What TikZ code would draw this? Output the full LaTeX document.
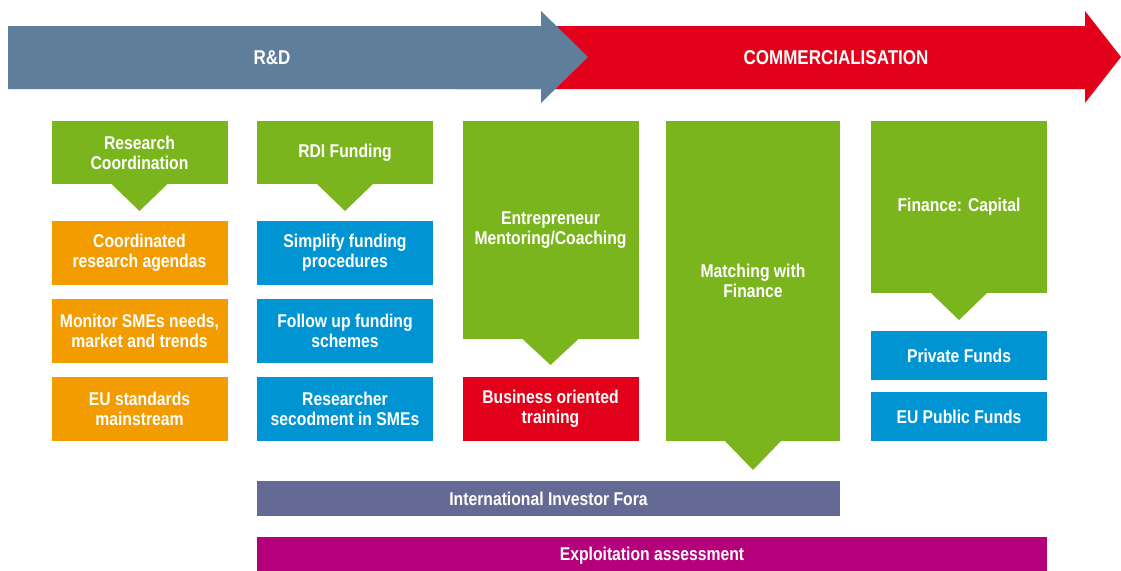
\documentclass[tikz,border=0pt]{standalone}
\usepackage{fontspec}
\setmainfont[FakeStretch=0.85]{Liberation Sans}
\usepackage{tikz}
\usetikzlibrary{positioning}
\definecolor{rdblue}{HTML}{5F7E9B}
\definecolor{comred}{HTML}{E2001A}
\definecolor{stepgreen}{HTML}{7AB51D}
\definecolor{actorange}{HTML}{F39C00}
\definecolor{actblue}{HTML}{0095D2}
\definecolor{foraviolet}{HTML}{646A94}
\definecolor{expmagenta}{HTML}{B5007B}

\begin{document}
\begin{tikzpicture}[
x=1pt,y=-1pt,
Box/.style={inner sep=0pt,outer sep=0pt,text=white,align=center,
  font=\bfseries\fontsize{18.5}{20}\selectfont,minimum width=176pt},
Head/.style={Box,fill=stepgreen},
Orange/.style={Box,fill=actorange,minimum height=64pt},
Blue/.style={Box,fill=actblue,minimum height=64pt},
Pointer/.style={fill=stepgreen},
Title/.style={Box,minimum width=0pt,font=\bfseries\fontsize{20}{22}\selectfont}
]
\useasboundingbox (0,0) rectangle (1121,570);

% process arrows
\fill[comred] (455,26) -- (1085,26) -- (1085,11) -- (1121,57)
  -- (1085,103) -- (1085,89) -- (455,89) -- cycle;
\fill[rdblue] (8,26) -- (541,26) -- (541,11) -- (588,57)
  -- (541,103) -- (541,89) -- (8,89) -- cycle;
\node[Title] (rd) at (272,58) {R\&D};
\node[Title] (com) at (836,58) {COMMERCIALISATION};

% research coordination
\node[Head,minimum height=63pt] (coord) at (139.5,152.5) {Research\\Coordination};
\fill[Pointer] ([xshift=-28pt]coord.south) -- ([xshift=28pt]coord.south)
  -- ([yshift=-27pt]coord.south) -- cycle;
\node[Orange] (agendas) at (139.5,253) {Coordinated\\research agendas};
\node[Orange] (monitor) at (139.5,331) {Monitor SMEs needs,\\market and trends};
\node[Orange] (standards) at (139.5,409) {EU standards\\mainstream};

% rdi funding
\node[Head,minimum height=63pt] (rdi) at (345,152.5) {RDI Funding};
\fill[Pointer] ([xshift=-28pt]rdi.south) -- ([xshift=28pt]rdi.south)
  -- ([yshift=-27pt]rdi.south) -- cycle;
\node[Blue] (simplify) at (345,253) {Simplify funding\\procedures};
\node[Blue] (followup) at (345,331) {Follow up funding\\schemes};
\node[Blue] (secondment) at (345,409) {Researcher\\secodment in SMEs};

% mentoring
\node[Head,minimum height=218pt] (mentor) at (550.5,230) {Entrepreneur\\Mentoring/Coaching};
\fill[Pointer] ([xshift=-28pt]mentor.south) -- ([xshift=28pt]mentor.south)
  -- ([yshift=-26pt]mentor.south) -- cycle;
\node[Box,fill=comred,minimum height=64pt] (training) at (550.5,409) {Business oriented\\training};

% matching
\node[Head,minimum height=320pt,minimum width=174pt] (matching) at (753,281) {Matching with\\Finance};
\fill[Pointer] ([xshift=-28pt]matching.south) -- ([xshift=28pt]matching.south)
  -- ([yshift=-29pt]matching.south) -- cycle;

% capital
\node[Head,minimum height=172pt] (capital) at (959,207) {Finance: Capital};
\fill[Pointer] ([xshift=-28pt]capital.south) -- ([xshift=28pt]capital.south)
  -- ([yshift=-27pt]capital.south) -- cycle;
\node[Blue,minimum height=49pt] (private) at (959,355.5) {Private Funds};
\node[Blue,minimum height=49pt] (public) at (959,416.5) {EU Public Funds};

% bottom bars
\node[Box,fill=foraviolet,minimum width=583pt,minimum height=35pt] (fora) at (548.5,498.5) {International Investor Fora};
\node[Box,fill=expmagenta,minimum width=790pt,minimum height=37pt] (exploit) at (652,555.5) {Exploitation assessment};

\end{tikzpicture}
\end{document}
